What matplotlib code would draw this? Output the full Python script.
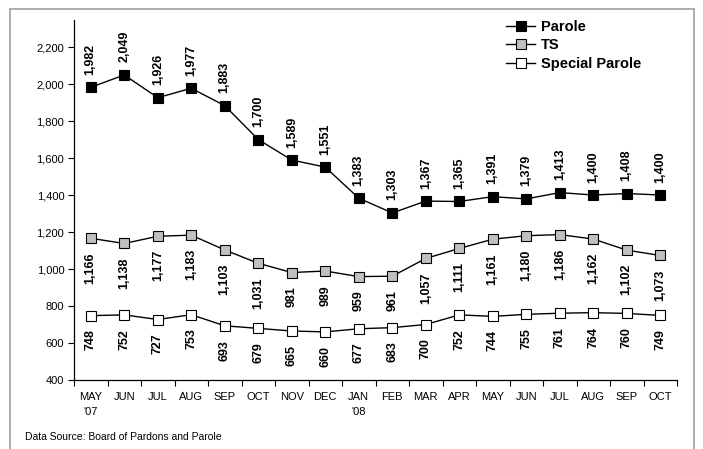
import matplotlib
matplotlib.use("Agg")
import matplotlib.pyplot as plt
from matplotlib.lines import Line2D
from matplotlib.patches import Rectangle

months = ["MAY\n'07", "JUN", "JUL", "AUG", "SEP", "OCT", "NOV", "DEC", "JAN\n'08",
          "FEB", "MAR", "APR", "MAY", "JUN", "JUL", "AUG", "SEP", "OCT"]
parole = [1982, 2049, 1926, 1977, 1883, 1700, 1589, 1551, 1383, 1303, 1367, 1365,
          1391, 1379, 1413, 1400, 1408, 1400]
ts = [1166, 1138, 1177, 1183, 1103, 1031, 981, 989, 959, 961, 1057, 1111,
      1161, 1180, 1186, 1162, 1102, 1073]
special = [748, 752, 727, 753, 693, 679, 665, 660, 677, 683, 700, 752,
           744, 755, 761, 764, 760, 749]
yticks = [400, 600, 800, 1000, 1200, 1400, 1600, 1800, 2000, 2200]
source = "Data Source: Board of Pardons and Parole"

plt.rcParams['font.family'] = ['Liberation Sans', 'DejaVu Sans']

fig = plt.figure(figsize=(7.03, 4.49), dpi=100)
fig.patches.append(Rectangle((10/703, -0.1), (694-10)/703, 1.1 - 9/449,
                             transform=fig.transFigure, fill=False,
                             edgecolor='#a0a0a0', linewidth=1.2))
ax = fig.add_axes([74/703, 1-380/449, (677-74)/703, (380-20)/449])

x = list(range(len(months)))
series = [
    (parole, 'black', 'Parole', 'above'),
    (ts, '#c0c0c0', 'TS', 'below'),
    (special, 'white', 'Special Parole', 'below'),
]
for vals, fc, name, pos in series:
    ax.plot(x, vals, color='black', linewidth=1.0, marker='s', markersize=7.5,
            markerfacecolor=fc, markeredgecolor='black', markeredgewidth=0.8,
            zorder=3)
    for xi, v in zip(x, vals):
        if pos == 'above':
            ax.annotate(f"{v:,}", (xi, v), xytext=(0, 9), textcoords='offset points',
                        rotation=90, ha='center', va='bottom', fontsize=9,
                        fontweight='bold')
        else:
            ax.annotate(f"{v:,}", (xi, v), xytext=(0, -10), textcoords='offset points',
                        rotation=90, ha='center', va='top', fontsize=9,
                        fontweight='bold')

ax.set_xlim(-0.5, len(months) - 0.5)
ax.set_ylim(400, 2346)
ax.set_yticks(yticks)
ax.set_yticklabels([f"{v:,}" for v in yticks], fontsize=8)
ax.set_xticks(x)
ax.set_xticklabels(months, fontsize=8, linespacing=1.6, va='top')
ax.set_xticks([i - 0.5 for i in range(len(months) + 1)], minor=True)
ax.tick_params(axis='x', which='major', length=0, pad=9)
ax.tick_params(axis='x', which='minor', length=4, direction='out', width=0.8)
ax.tick_params(axis='y', length=4, direction='out', width=0.8, pad=3)
for s in ['top', 'right']:
    ax.spines[s].set_visible(False)
for s in ['left', 'bottom']:
    ax.spines[s].set_linewidth(0.9)

handles = [Line2D([0], [0], color='black', linewidth=1.0, marker='s', markersize=7.5,
                  markerfacecolor=fc, markeredgecolor='black', markeredgewidth=0.8)
           for _, fc, _, _ in series]
leg = ax.legend(handles, [s[2] for s in series], loc='upper left',
                bbox_to_anchor=(506/703, 1 - 20/449), bbox_transform=fig.transFigure,
                frameon=False, prop={'weight': 'bold', 'size': 10.5},
                handlelength=2.0, handletextpad=0.4, labelspacing=0.3,
                borderpad=0, borderaxespad=0)

fig.text(25/703, 1 - 437/449, source, fontsize=7.5, va='center', ha='left')

fig.savefig("out.png", dpi=100)
